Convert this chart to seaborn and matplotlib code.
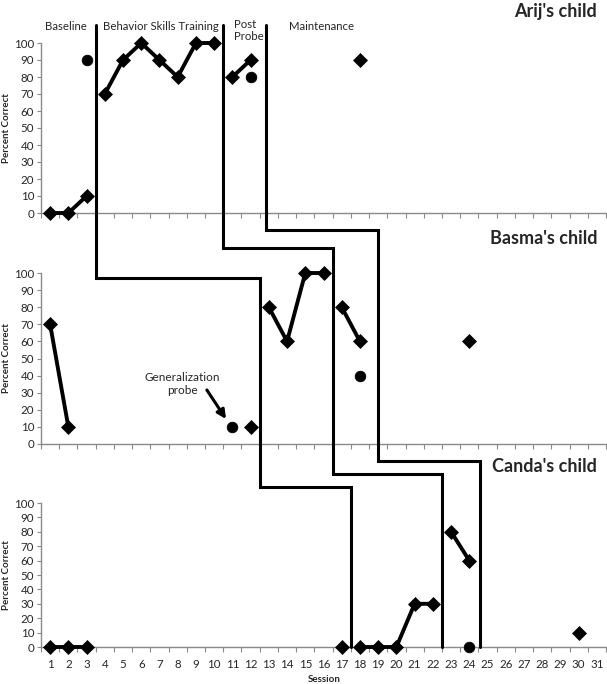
import numpy as np
import pandas as pd
import matplotlib.pyplot as plt
import seaborn as sns
from matplotlib.lines import Line2D

sns.set_style("white")
plt.rcParams['font.family'] = ['Lato', 'DejaVu Sans']

# === Données ===
children = ["Arij's child", "Basma's child", "Canda's child"]
sessions = list(range(1, 32))
y_ticks = list(range(0, 101, 10))

# losanges : chaque sous-liste = une série reliée
arij_sessions = [[1, 2, 3], [4, 5, 6, 7, 8, 9, 10], [11, 12], [18]]
arij_values = [[0, 0, 10], [70, 90, 100, 90, 80, 100, 100], [80, 90], [90]]
basma_sessions = [[1, 2], [12], [13, 14, 15, 16], [17, 18], [24]]
basma_values = [[70, 10], [10], [80, 60, 100, 100], [80, 60], [60]]
canda_sessions = [[1, 2, 3], [17], [18, 19, 20, 21, 22], [23, 24], [30]]
canda_values = [[0, 0, 0], [0], [0, 0, 0, 30, 30], [80, 60], [10]]

# ronds (sondes de généralisation)
arij_probe_sessions = [3, 12]
arij_probe_values = [90, 80]
basma_probe_sessions = [11, 18]
basma_probe_values = [10, 40]
canda_probe_sessions = [24]
canda_probe_values = [0]

# lignes de changement de phase (position en session dans chaque panneau)
phase_change_x = [[3.5, 12.5, 17.5], [10.5, 16.5, 22.5], [12.85, 19.0, 24.6]]
# hauteur des paliers (valeur du panneau du dessous)
phase_step_y = [[97, 111], [114.6, 120], [125, 129]]
phase_top_y = 110.5

phase_names = ['Baseline', 'Behavior Skills Training', 'Post\nProbe', 'Maintenance']

diamond_sessions = [arij_sessions, basma_sessions, canda_sessions]
diamond_values = [arij_values, basma_values, canda_values]
probe_sessions = [arij_probe_sessions, basma_probe_sessions, canda_probe_sessions]
probe_values = [arij_probe_values, basma_probe_values, canda_probe_values]

# === Figure ===
W, H = 607, 684
fig = plt.figure(figsize=(W / 100, H / 100), dpi=100)

def px_axes(left, top, right, bottom):
    return fig.add_axes([left / W, 1 - bottom / H, (right - left) / W, (bottom - top) / H])

axes = [px_axes(41, 43, 606, 213), px_axes(41, 273, 606, 444), px_axes(41, 503, 606, 647)]
grey = '#8a8a8a'

for i, ax in enumerate(axes):
    rows = []
    for k, (xs, ys) in enumerate(zip(diamond_sessions[i], diamond_values[i])):
        for x, y in zip(xs, ys):
            rows.append({'session': x, 'pct': y, 'run': k})
    df = pd.DataFrame(rows)
    sns.lineplot(data=df, x='session', y='pct', units='run', estimator=None,
                 color='black', lw=2.8, marker='D', markersize=6.8,
                 markeredgewidth=0.5, markeredgecolor='black',
                 ax=ax, clip_on=False, zorder=5)
    pdf = pd.DataFrame({'session': probe_sessions[i], 'pct': probe_values[i]})
    sns.scatterplot(data=pdf, x='session', y='pct', color='black', marker='o',
                    s=58, edgecolor='black', ax=ax, clip_on=False, zorder=6)

    ax.set_xlim(0.5, 31.5)
    ax.set_ylim(0, 100)
    ax.set_xlabel('')
    ax.set_ylabel('')
    for s in ['top', 'right']:
        ax.spines[s].set_visible(False)
    for s in ['left', 'bottom']:
        ax.spines[s].set_color(grey)
        ax.spines[s].set_linewidth(1)
    ax.set_yticks(y_ticks)
    ax.set_xticks(sessions)
    ax.set_xticks(np.arange(0.5, 32, 1), minor=True)
    ax.tick_params(axis='y', direction='out', length=3, width=0.8, color=grey,
                   labelsize=8.3, pad=2, left=True)
    ax.tick_params(axis='x', which='major', length=0, labelsize=8.3, pad=9)
    ax.tick_params(axis='x', which='minor', direction='out', length=3.5,
                   width=0.8, color=grey, bottom=True)
    if i < 2:
        ax.set_xticklabels([])
    ax.patch.set_alpha(0)

    pos = ax.get_position()
    fig.text(7 / W, (pos.y0 + pos.y1) / 2, 'Percent Correct', rotation=90,
             ha='center', va='center', fontsize=7, fontweight='bold')

fig.text(597 / W, 1 - 11 / H, children[0], ha='right', va='center',
         fontsize=13, fontweight='bold')
fig.text(597 / W, 1 - 238 / H, children[1], ha='right', va='center',
         fontsize=13, fontweight='bold')
fig.text(597 / W, 1 - 467 / H, children[2], ha='right', va='center',
         fontsize=13, fontweight='bold')
fig.text(324 / W, 1 - 680 / H, 'Session', ha='center', va='center',
         fontsize=7, fontweight='bold')

# noms des phases
a0 = axes[0]
a0.text(1.88, 109.5, phase_names[0], ha='center', va='center', fontsize=8.2)
a0.text(3.9, 109.5, phase_names[1], ha='left', va='center', fontsize=8.2)
a0.text(11.1, 114, phase_names[2], ha='left', va='top', fontsize=8.2,
        linespacing=1.1)
a0.text(14.1, 109.5, phase_names[3], ha='left', va='center', fontsize=8.2)

# annotation sonde de généralisation
a1 = axes[1]
a1.text(8.24, 35, 'Generalization\nprobe', ha='center', va='center',
        fontsize=8.5, linespacing=1.2)
a1.annotate('', xy=(10.65, 14.6), xytext=(9.6, 31.6),
            arrowprops=dict(arrowstyle='-|>', lw=2.2, color='black',
                            mutation_scale=13, shrinkA=0, shrinkB=0))

# lignes de changement de phase, à travers les trois panneaux
to_fig = fig.transFigure.inverted()

def fpt(ax, x, y):
    return to_fig.transform(ax.transData.transform((x, y)))

for xs, steps in zip(phase_change_x, phase_step_y):
    pts = [fpt(axes[0], xs[0], phase_top_y),
           fpt(axes[1], xs[0], steps[0]),
           fpt(axes[1], xs[1], steps[0]),
           fpt(axes[2], xs[1], steps[1]),
           fpt(axes[2], xs[2], steps[1]),
           fpt(axes[2], xs[2], 0)]
    pts = np.array(pts)
    fig.lines.append(Line2D(pts[:, 0], pts[:, 1], transform=fig.transFigure,
                            color='black', lw=2.2, solid_joinstyle='miter'))

fig.savefig('out.png', dpi=100)
